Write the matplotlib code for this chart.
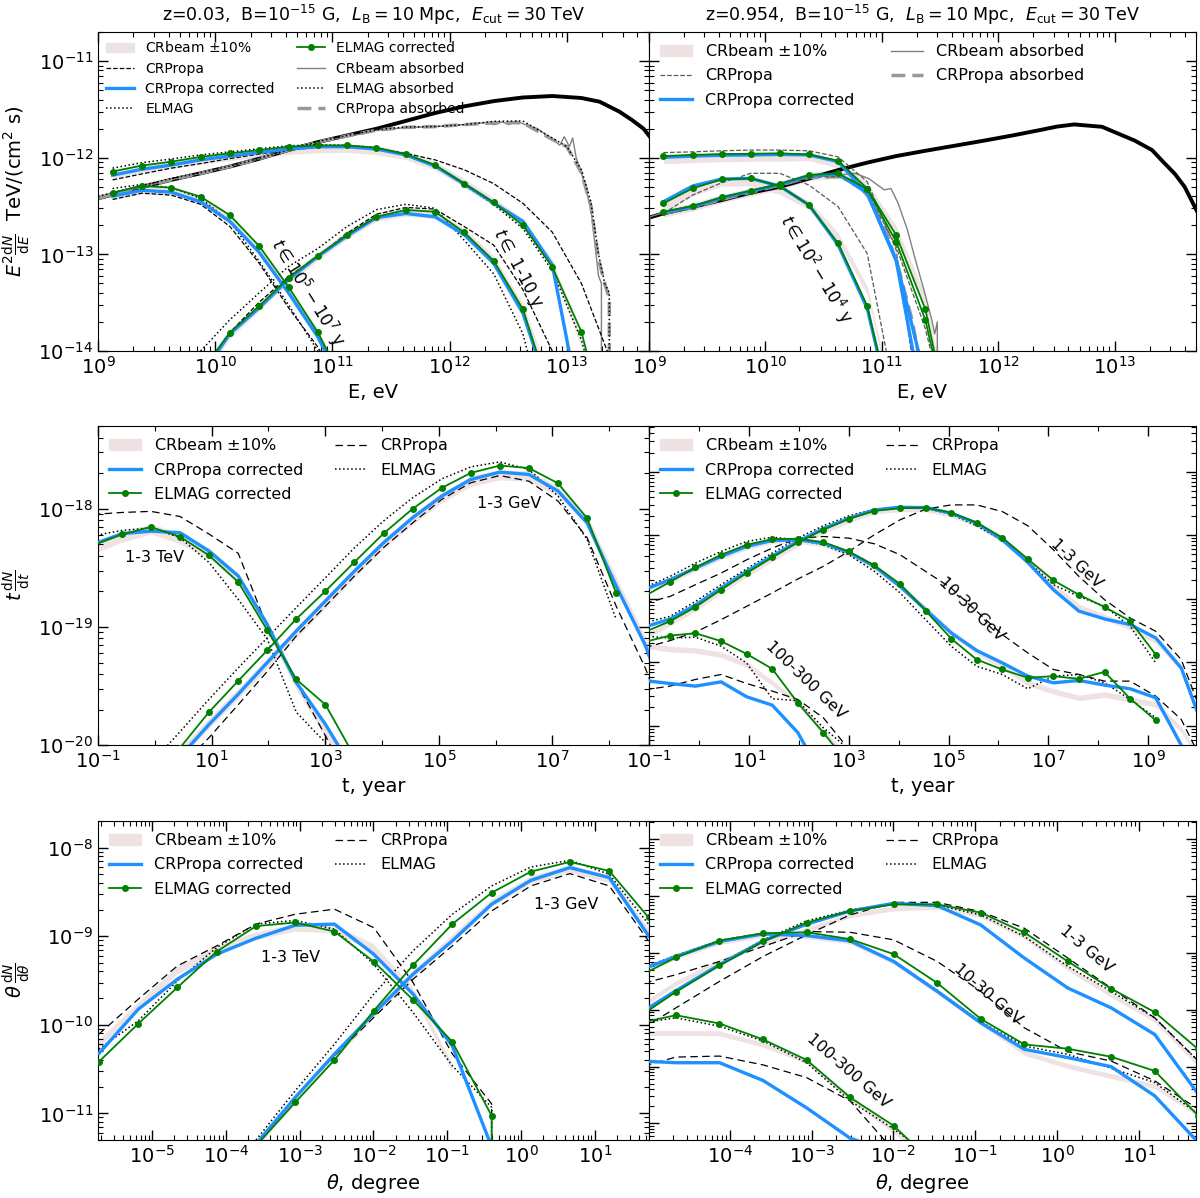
import numpy as np
import matplotlib
matplotlib.use("Agg")
import matplotlib.pyplot as plt
from matplotlib.lines import Line2D
from matplotlib.patches import Patch
from matplotlib.ticker import FixedLocator, NullFormatter

# ------------------------------------------------------------------
# top row : spectra  E^2 dN/dE  [TeV/(cm^2 s)]
# ------------------------------------------------------------------
E_bins = [1.33e9, 2.37e9, 4.22e9, 7.5e9, 1.33e10, 2.37e10, 4.22e10, 7.5e10,
          1.33e11, 2.37e11, 4.22e11, 7.5e11, 1.33e12, 2.37e12, 4.22e12,
          7.5e12, 1.33e13, 2.37e13, 4.22e13]

# z = 0.03, total cascade
tl_tot_band = [6.8e-13, 7.8e-13, 8.6e-13, 9.6e-13, 1.04e-12, 1.12e-12, 1.2e-12, 1.25e-12, 1.26e-12,
               1.2e-12, 1.06e-12, 8.3e-13, 5.5e-13, 3.5e-13, 2.1e-13, 8.0e-14, 1.2e-14, 1e-16]
tl_tot_crp = [5.9e-13, 6.8e-13, 7.8e-13, 8.7e-13, 9.8e-13, 1.09e-12, 1.2e-12, 1.28e-12, 1.32e-12,
              1.25e-12, 1.11e-12, 9.5e-13, 7.5e-13, 5.4e-13, 3.37e-13, 1.7e-13, 5e-14, 8e-15, 1e-15]
tl_tot_crpc = [6.6e-13, 7.6e-13, 8.4e-13, 9.5e-13, 1.04e-12, 1.13e-12, 1.23e-12, 1.3e-12, 1.3e-12,
               1.23e-12, 1.07e-12, 8.2e-13, 5.35e-13, 3.4e-13, 2.2e-13, 7.8e-14, 2.2e-15, 1e-16]
tl_tot_elm = [7.8e-13, 8.9e-13, 9.7e-13, 1.07e-12, 1.15e-12, 1.24e-12, 1.33e-12, 1.36e-12, 1.35e-12,
              1.27e-12, 1.08e-12, 8.2e-13, 5.2e-13, 3.3e-13, 1.85e-13, 6.8e-14, 1.3e-14, 1e-15]
tl_tot_elmc = [7.2e-13, 8.3e-13, 9.1e-13, 1.02e-12, 1.11e-12, 1.2e-12, 1.3e-12, 1.34e-12, 1.34e-12,
               1.27e-12, 1.09e-12, 8.4e-13, 5.4e-13, 3.45e-13, 2.0e-13, 7.4e-14, 1.58e-14, 1e-15]

# z = 0.03, t in 1e5-1e7 y  (starts at E_bins[0])
tl_late_band = [4.1e-13, 4.7e-13, 4.55e-13, 3.6e-13, 2.3e-13, 1.1e-13, 4.3e-14, 1.5e-14, 4e-15]
tl_late_crp = [3.7e-13, 4.3e-13, 4.1e-13, 3.3e-13, 1.95e-13, 8.1e-14, 2.8e-14, 1.1e-14, 3e-15]
tl_late_crpc = [4.0e-13, 4.6e-13, 4.4e-13, 3.5e-13, 2.2e-13, 1.05e-13, 4.0e-14, 1.4e-14, 3.5e-15]
tl_late_elm = [4.8e-13, 5.3e-13, 4.9e-13, 3.8e-13, 2.2e-13, 8.5e-14, 3e-14, 1.0e-14, 2.5e-15]
tl_late_elmc = [4.35e-13, 5.1e-13, 4.9e-13, 3.95e-13, 2.55e-13, 1.22e-13, 4.6e-14, 1.56e-14, 4e-15]

# z = 0.03, t in 1-10 y  (starts at E_bins[3])
tl_early_band = [5.5e-15, 1.5e-14, 2.9e-14, 5.6e-14, 9.6e-14, 1.6e-13, 2.45e-13, 2.75e-13, 2.6e-13,
                 1.7e-13, 8.8e-14, 2.8e-14, 4e-15]
tl_early_crp = [6e-15, 1.55e-14, 3.2e-14, 5.9e-14, 9.5e-14, 1.65e-13, 2.6e-13, 3.06e-13, 2.94e-13,
                1.94e-13, 1.25e-13, 4.3e-14, 1.0e-14, 1e-15]
tl_early_crpc = [5.5e-15, 1.5e-14, 2.8e-14, 5.5e-14, 9.5e-14, 1.55e-13, 2.4e-13, 2.65e-13, 2.45e-13,
                 1.6e-13, 8.1e-14, 2.45e-14, 3e-15]
tl_early_elm = [1e-14, 2.1e-14, 4e-14, 7.5e-14, 1.15e-13, 1.94e-13, 2.9e-13, 3.3e-13, 3.0e-13,
                1.4e-13, 6.3e-14, 1.5e-14, 1e-15]
tl_early_elmc = [6e-15, 1.55e-14, 2.92e-14, 5.74e-14, 9.7e-14, 1.59e-13, 2.45e-13, 2.88e-13, 2.76e-13,
                 1.69e-13, 8.6e-14, 2.7e-14, 3e-15]

# z = 0.03, absorbed primary
E_abs_crb = [1.0e9, 2.4e9, 4.2e9, 7.5e9, 1.33e10, 2.4e10, 4.2e10, 7.5e10, 1.33e11, 2.4e11, 4.2e11,
             7.5e11, 1.33e12, 2.0e12, 2.4e12, 2.8e12, 3.2e12, 3.7e12, 4.2e12, 5.6e12, 7.5e12,
             8.7e12, 9.5e12, 1.05e13, 1.12e13, 1.2e13, 1.33e13, 1.6e13, 1.86e13, 1.97e13, 2.0e13]
tl_abs_crb = [3.8e-13, 5.0e-13, 5.9e-13, 6.9e-13, 8.1e-13, 9.8e-13, 1.2e-12, 1.45e-12, 1.65e-12,
              1.92e-12, 2.05e-12, 2.1e-12, 2.2e-12, 2.3e-12, 2.2e-12, 2.35e-12, 2.2e-12, 2.4e-12,
              2.25e-12, 2.0e-12, 1.55e-12, 1.35e-12, 1.65e-12, 1.3e-12, 1.6e-12, 1.0e-12, 7e-13,
              3e-13, 6e-14, 5e-14, 0.0]
E_abs = [1.0e9, 2.4e9, 4.2e9, 7.5e9, 1.33e10, 2.4e10, 4.2e10, 7.5e10, 1.33e11, 2.4e11, 4.2e11,
         7.5e11, 1.33e12, 2.4e12, 4.2e12, 7.5e12, 1.0e13, 1.33e13, 1.6e13, 1.86e13, 2.1e13,
         2.3e13, 2.35e13]
tl_abs_elm = [4.0e-13, 5.2e-13, 6.1e-13, 7.0e-13, 8.2e-13, 9.9e-13, 1.2e-12, 1.47e-12, 1.7e-12,
              1.95e-12, 2.08e-12, 2.1e-12, 2.2e-12, 2.38e-12, 2.4e-12, 1.6e-12, 1.3e-12, 7.5e-13,
              3.5e-13, 1.0e-13, 5e-14, 4e-14, 0.0]
tl_abs_crp = [3.8e-13, 5.0e-13, 5.9e-13, 6.9e-13, 8.1e-13, 9.8e-13, 1.2e-12, 1.45e-12, 1.68e-12,
              1.93e-12, 2.06e-12, 2.1e-12, 2.2e-12, 2.3e-12, 2.3e-12, 1.55e-12, 1.3e-12, 7e-13,
              3.2e-13, 9e-14, 5e-14, 3.5e-14, 0.0]

# z = 0.03, intrinsic spectrum
E_intr_l = [1.0e9, 2.4e9, 4.2e9, 7.5e9, 1.33e10, 2.4e10, 4.2e10, 7.5e10, 1.33e11, 2.4e11, 4.2e11,
            7.5e11, 1.33e12, 2.4e12, 4.2e12, 7.5e12, 1.33e13, 1.9e13, 2.8e13, 3.6e13, 4.5e13, 5.2e13]
tl_intr = [3.8e-13, 5.0e-13, 5.9e-13, 6.9e-13, 8.1e-13, 9.8e-13, 1.2e-12, 1.45e-12, 1.7e-12, 2.0e-12,
           2.4e-12, 2.9e-12, 3.4e-12, 3.86e-12, 4.2e-12, 4.35e-12, 4.15e-12, 3.8e-12, 3.0e-12,
           2.45e-12, 2.0e-12, 1.6e-12]

# z = 0.954, total cascade
tr_tot_band = [9.6e-13, 9.9e-13, 1.01e-12, 1.02e-12, 1.02e-12, 1.04e-12, 8.7e-13, 5.0e-13, 1.79e-13, 3.4e-14, 1e-15]
tr_tot_crp = [1.13e-12, 1.15e-12, 1.18e-12, 1.2e-12, 1.2e-12, 1.18e-12, 1.02e-12, 5.65e-13, 1.11e-13, 1e-15]
tr_tot_crpc = [1.01e-12, 1.04e-12, 1.06e-12, 1.07e-12, 1.08e-12, 1.07e-12, 9.1e-13, 4.28e-13, 8.7e-14, 5e-15]
tr_tot_elmc = [1.04e-12, 1.07e-12, 1.09e-12, 1.1e-12, 1.11e-12, 1.08e-12, 9.3e-13, 4.8e-13, 1.58e-13, 2.7e-14, 1e-15]

# z = 0.954, t in 1e2-1e4 y
tr_hump_band = [3.1e-13, 4.45e-13, 5.65e-13, 5.65e-13, 4.63e-13, 3.24e-13, 1.52e-13, 4.27e-14, 2e-15]
tr_hump_crp = [2.65e-13, 4.11e-13, 5.51e-13, 6.9e-13, 6.9e-13, 5.21e-13, 3.11e-13, 1.02e-13, 3e-15]
tr_hump_crpc = [3.5e-13, 5.1e-13, 6.02e-13, 6.11e-13, 5.09e-13, 3.24e-13, 1.25e-13, 2.76e-14, 1.5e-15]
tr_hump_elmc = [3.37e-13, 4.82e-13, 5.97e-13, 6.11e-13, 5.09e-13, 3.24e-13, 1.3e-13, 2.92e-14, 1.5e-15]

# z = 0.954, late part
tr_rise_band = [2.7e-13, 3.1e-13, 3.8e-13, 4.45e-13, 5.2e-13, 6.4e-13, 6.9e-13, 5.0e-13, 1.7e-13, 3.2e-14, 1e-15]
tr_rise_crp = [2.6e-13, 3.0e-13, 3.75e-13, 4.4e-13, 5.15e-13, 6.3e-13, 6.4e-13, 4.5e-13, 1.2e-13, 1.7e-14, 1e-15]
tr_rise_crpc = [2.7e-13, 3.1e-13, 3.85e-13, 4.5e-13, 5.3e-13, 6.5e-13, 6.8e-13, 4.3e-13, 8.7e-14, 2e-15]
tr_rise_elmc = [2.76e-13, 3.16e-13, 3.89e-13, 4.56e-13, 5.34e-13, 6.62e-13, 6.89e-13, 4.75e-13, 1.35e-13, 2.09e-14, 1e-15]

# z = 0.954, absorbed primary
E_abs_crb_r = [1.0e9, 1.02e9, 1.33e9, 2.37e9, 4.22e9, 7.5e9, 1.33e10, 2.37e10, 4.22e10, 5.9e10, 7.7e10,
               1.05e11, 1.2e11, 1.38e11, 1.66e11, 1.95e11, 2.34e11, 2.69e11, 2.85e11, 3.0e11, 3.1e11]
tr_abs_crb = [0.0, 2.45e-13, 2.7e-13, 3.1e-13, 3.73e-13, 4.45e-13, 5.21e-13, 6.26e-13, 6.62e-13, 6.9e-13,
              6.1e-13, 4.65e-13, 4.8e-13, 3.4e-13, 1.8e-13, 8.7e-14, 4e-14, 2.1e-14, 1.5e-14, 2e-14, 0.0]
E_abs_crp_r = [1.33e9, 2.37e9, 4.22e9, 7.5e9, 1.33e10, 2.37e10, 4.22e10, 5.9e10, 7.7e10, 1.05e11,
               1.38e11, 1.82e11, 2.04e11, 2.1e11]
tr_abs_crp = [2.65e-13, 3.05e-13, 3.7e-13, 4.4e-13, 5.2e-13, 6.26e-13, 6.35e-13, 5.65e-13, 3.95e-13,
              1.94e-13, 7.5e-14, 2.1e-14, 1e-14, 0.0]

# z = 0.954, intrinsic spectrum
E_intr_r = [1.0e9, 1.33e9, 2.37e9, 4.22e9, 7.5e9, 1.33e10, 2.37e10, 4.22e10, 7.5e10, 1.33e11, 2.37e11,
            4.22e11, 7.5e11, 1.33e12, 2.37e12, 3.2e12, 4.5e12, 7.8e12, 1.48e13, 2.1e13, 2.54e13,
            3.3e13, 4.0e13, 5.4e13]
tr_intr = [2.4e-13, 2.65e-13, 3.1e-13, 3.65e-13, 4.35e-13, 5.0e-13, 6.1e-13, 7.45e-13, 8.9e-13, 1.04e-12,
           1.18e-12, 1.33e-12, 1.5e-12, 1.7e-12, 1.95e-12, 2.1e-12, 2.21e-12, 2.09e-12, 1.51e-12,
           1.2e-12, 9.4e-13, 6.8e-13, 5.0e-13, 2.45e-13]

# ------------------------------------------------------------------
# middle row : time delay  t dN/dt
# ------------------------------------------------------------------
t_bins = [0.081, 0.263, 0.855, 2.78, 9.04, 29.4, 95.5, 310, 1.01e3, 3.28e3, 1.07e4, 3.47e4,
          1.13e5, 3.66e5, 1.19e6, 3.87e6, 1.26e7, 4.09e7, 1.33e8, 4.33e8, 1.41e9, 4.57e9, 1.48e10]

# z = 0.03, 1-3 TeV (from t_bins[0])
ml_tev_band = [4.6e-19, 5.8e-19, 6.8e-19, 5.6e-19, 4.2e-19, 2.6e-19, 1.0e-19, 3.3e-20, 1.3e-20, 5e-21, 1.5e-21]
ml_tev_crp = [8.95e-19, 9.3e-19, 9.5e-19, 8.6e-19, 6.1e-19, 4.2e-19, 1.0e-19, 3.4e-20, 1.2e-20, 4e-21, 1e-21]
ml_tev_crpc = [5.0e-19, 6.15e-19, 6.47e-19, 6.27e-19, 4.38e-19, 2.7e-19, 1.05e-19, 3.39e-20, 1.5e-20, 5.9e-21, 2e-21]
ml_tev_elm = [5.9e-19, 6.55e-19, 6.9e-19, 5.7e-19, 3.5e-19, 1.71e-19, 7.9e-20, 1.9e-20, 1.05e-20, 4e-21, 1e-21]
ml_tev_elmc = [4.9e-19, 6.07e-19, 7.0e-19, 5.8e-19, 4.03e-19, 2.4e-19, 9.4e-20, 3.6e-20, 2.2e-20, 8e-21, 2e-21]

# z = 0.03, 1-3 GeV (from t_bins[2])
ml_gev_band = [3e-21, 8.5e-21, 1.55e-20, 2.75e-20, 5.0e-20, 9.0e-20, 1.6e-19, 2.9e-19, 5.1e-19, 8.2e-19,
               1.25e-18, 1.72e-18, 1.95e-18, 1.9e-18, 1.42e-18, 8.0e-19, 2.4e-19, 7.5e-20, 1.6e-20]
ml_gev_crp = [2.5e-21, 6.5e-21, 1.16e-20, 2.2e-20, 4.2e-20, 8.4e-20, 1.5e-19, 2.7e-19, 4.7e-19, 7.6e-19,
              1.2e-18, 1.66e-18, 1.91e-18, 1.71e-18, 1.16e-18, 5.7e-19, 1.5e-19, 4.5e-20, 1e-20]
ml_gev_crpc = [3e-21, 8e-21, 1.5e-20, 2.7e-20, 5.0e-20, 9.25e-20, 1.66e-19, 2.97e-19, 5.16e-19, 8.4e-19,
               1.28e-18, 1.77e-18, 2.04e-18, 1.95e-18, 1.41e-18, 7.6e-19, 2.22e-19, 7e-20, 1.5e-20]
ml_gev_elm = [7e-21, 1.3e-20, 2.45e-20, 4.5e-20, 8.1e-20, 1.46e-19, 2.61e-19, 4.67e-19, 7.9e-19, 1.24e-18,
              1.79e-18, 2.26e-18, 2.49e-18, 2.15e-18, 1.28e-18, 5.5e-19, 1.16e-19]
ml_gev_elmc = [4e-21, 9.5e-21, 1.91e-20, 3.5e-20, 6.35e-20, 1.17e-19, 2.01e-19, 3.54e-19, 6.19e-19, 1.0e-18,
               1.5e-18, 2.01e-18, 2.32e-18, 2.21e-18, 1.64e-18, 8.3e-19, 1.93e-19]

# z = 0.954, 1-3 GeV (from t_bins[0])
mr_g1_band = [2.5e-22, 4.2e-22, 7.1e-22, 1.35e-21, 2.45e-21, 4.3e-21, 7.4e-21, 1.18e-20, 1.75e-20, 2.4e-20,
              2.6e-20, 2.6e-20, 2.15e-20, 1.5e-20, 8.6e-21, 4.0e-21, 1.6e-21, 7.5e-22, 5.2e-22, 3.6e-22,
              2.2e-22, 8e-23, 8e-24]
mr_g1_crp = [1.7e-22, 2.2e-22, 3.0e-22, 4.7e-22, 7.62e-22, 1.24e-21, 2.05e-21, 3.24e-21, 5.56e-21, 1.02e-20,
             1.75e-20, 2.57e-20, 3.0e-20, 3.0e-20, 2.36e-20, 1.41e-20, 5.9e-21, 2.25e-21, 9.7e-22, 5.0e-22,
             3.09e-22, 1.11e-22, 1.0e-23]
mr_g1_crpc = [3.6e-22, 4.8e-22, 8.0e-22, 1.48e-21, 2.7e-21, 4.7e-21, 8.0e-21, 1.27e-20, 1.85e-20, 2.5e-20,
              2.76e-20, 2.72e-20, 2.22e-20, 1.55e-20, 8.5e-21, 3.74e-21, 1.39e-21, 6.4e-22, 4.83e-22,
              3.94e-22, 2.43e-22, 8.2e-23, 6.6e-24]
mr_g1_elm = [4.2e-22, 5.3e-22, 9.1e-22, 1.67e-21, 2.97e-21, 5.24e-21, 9.0e-21, 1.41e-20, 2.02e-20, 2.57e-20,
             2.76e-20, 2.66e-20, 2.14e-20, 1.41e-20, 8.3e-21, 3.87e-21, 1.67e-21, 1.09e-21, 7.62e-22,
             3.7e-22, 9.8e-23]
mr_g1_elmc = [3.0e-22, 4.43e-22, 7.44e-22, 1.39e-21, 2.54e-21, 4.48e-21, 7.7e-21, 1.22e-20, 1.81e-20,
              2.42e-20, 2.66e-20, 2.72e-20, 2.27e-20, 1.58e-20, 9.2e-21, 4.22e-21, 1.95e-21, 1.16e-21,
              7.44e-22, 4.49e-22, 1.33e-22]

# z = 0.954, 10-30 GeV
mr_g10_band = [1.4e-21, 1.95e-21, 3.0e-21, 4.6e-21, 6.6e-21, 8.2e-21, 8.3e-21, 7.3e-21, 5.2e-21, 3.2e-21,
               1.6e-21, 7.0e-22, 3.0e-22, 1.5e-22, 8.7e-23, 4.78e-23, 3.54e-23, 2.78e-23, 3.14e-23,
               2.62e-23, 2.19e-23, 8.9e-24, 2e-24]
mr_g10_crp = [8.5e-22, 1.09e-21, 1.67e-21, 2.54e-21, 4.11e-21, 6.27e-21, 9.0e-21, 9.55e-21, 9.0e-21,
              7.33e-21, 4.93e-21, 2.7e-21, 1.48e-21, 6.37e-22, 2.74e-22, 1.41e-22, 7.74e-23, 6.46e-23,
              5.08e-23, 5.08e-23, 2.95e-23, 1.27e-23, 2e-24]
mr_g10_crpc = [1.4e-21, 2.0e-21, 3.05e-21, 4.65e-21, 6.67e-21, 8.28e-21, 8.48e-21, 7.5e-21, 5.36e-21,
               3.24e-21, 1.57e-21, 6.76e-22, 2.91e-22, 1.54e-22, 9.84e-23, 6.08e-23, 4.78e-23, 5.2e-23,
               4.4e-23, 3.85e-23, 2.78e-23, 5e-24]
mr_g10_elm = [1.5e-21, 2.25e-21, 3.65e-21, 5.56e-21, 7.98e-21, 9.33e-21, 8.48e-21, 7.08e-21, 4.93e-21,
              2.7e-21, 1.24e-21, 4.71e-22, 1.8e-22, 8.7e-23, 6.46e-23, 3.85e-23, 6.08e-23, 6.46e-23,
              4.78e-23, 2.62e-23, 1.35e-23]
mr_g10_elmc = [1.1e-21, 1.84e-21, 3.12e-21, 4.93e-21, 7.08e-21, 8.7e-21, 8.8e-21, 7.8e-21, 5.56e-21,
               3.35e-21, 1.71e-21, 6.5e-22, 2.37e-22, 1.11e-22, 7.74e-23, 5.73e-23, 6.08e-23, 5.52e-23,
               7.1e-23, 2.69e-23, 1.23e-23]

# z = 0.954, 100-300 GeV
mr_g100_band = [1.85e-22, 1.63e-22, 1.55e-22, 1.33e-22, 9.27e-23, 4.78e-23, 2.32e-23, 8.3e-24, 3e-24]
mr_g100_crp = [3.7e-23, 4.24e-23, 5.4e-23, 6.46e-23, 4.66e-23, 3.54e-23, 2.62e-23, 1.35e-23, 4.3e-24]
mr_g100_crpc = [5.2e-23, 4.66e-23, 4.24e-23, 4.95e-23, 2.88e-23, 2.13e-23, 7.9e-24, 1.5e-24]
mr_g100_elm = [2.6e-22, 2.42e-22, 2.49e-22, 1.8e-22, 9.8e-23, 2.69e-23, 2.5e-23, 9.4e-24, 4.3e-24]
mr_g100_elmc = [2.1e-22, 2.64e-22, 2.88e-22, 2.16e-22, 1.36e-22, 7.93e-23, 2.32e-23, 7.86e-24, 2.5e-24]

# ------------------------------------------------------------------
# bottom row : angular profile  theta dN/dtheta
# ------------------------------------------------------------------
th_bins = [1.9e-6, 6.5e-6, 2.2e-5, 7.5e-5, 2.56e-4, 8.7e-4, 2.96e-3, 1.01e-2, 3.44e-2,
           0.117, 0.40, 1.36, 4.6, 15.7, 53.5]

# z = 0.03, 1-3 TeV (from th_bins[0])
bl_tev_band = [6.1e-11, 1.6e-10, 4.1e-10, 7.0e-10, 1.0e-9, 1.25e-9, 1.2e-9, 7.4e-10, 2.4e-10, 3.3e-11, 0.0]
bl_tev_crp = [7.85e-11, 1.95e-10, 4.62e-10, 7.78e-10, 1.37e-9, 1.77e-9, 2.02e-9, 1.25e-9, 3.0e-10,
              4.7e-11, 1.28e-11, 0.0]
bl_tev_crpc = [4.75e-11, 1.5e-10, 3.27e-10, 6.26e-10, 9.5e-10, 1.33e-9, 1.37e-9, 6.26e-10, 2.22e-10,
               5.8e-11, 4.2e-12, 0.0]
bl_tev_elm = [5.32e-11, 1.11e-10, 3.13e-10, 7.45e-10, 1.37e-9, 1.51e-9, 1.2e-9, 4.83e-10, 1.38e-10,
              3.45e-11, 1.17e-11, 0.0]
bl_tev_elmc = [3.83e-11, 1.03e-10, 2.64e-10, 6.71e-10, 1.3e-9, 1.43e-9, 1.13e-9, 5.17e-10, 1.91e-10,
               6.43e-11, 9.4e-12, 0.0]

# z = 0.03, 1-3 GeV (from th_bins[4])
bl_gev_band = [4.5e-12, 1.45e-11, 4.5e-11, 1.35e-10, 3.8e-10, 9.5e-10, 2.4e-9, 4.4e-9, 5.8e-9, 4.5e-9, 1.1e-9]
bl_gev_crp = [4.5e-12, 1.51e-11, 4.47e-11, 1.21e-10, 3.27e-10, 7.78e-10, 1.93e-9, 3.7e-9, 5.09e-9, 3.7e-9, 8.85e-10]
bl_gev_crpc = [4.5e-12, 1.51e-11, 4.67e-11, 1.34e-10, 3.73e-10, 8.85e-10, 2.3e-9, 4.28e-9, 5.95e-9, 4.59e-9, 1.01e-9]
bl_gev_elm = [5e-12, 1.8e-11, 6.05e-11, 2.22e-10, 6.84e-10, 1.77e-9, 3.7e-9, 6.05e-9, 7.2e-9, 5.0e-9, 1.37e-9]
bl_gev_elmc = [4.3e-12, 1.33e-11, 4.0e-11, 1.44e-10, 4.71e-10, 1.37e-9, 3.1e-9, 5.36e-9, 6.9e-9, 5.46e-9, 1.63e-9]

# z = 0.954 (all from th_bins[1])
br_g1_band = [9.42e-16, 2.96e-15, 7.08e-15, 1.49e-14, 2.54e-14, 4.66e-14, 6.1e-14, 6.52e-14, 4.66e-14,
              1.95e-14, 5.42e-15, 1.85e-15, 6.73e-16, 1.1e-16]
br_g1_crp = [3.67e-16, 1.08e-15, 3.16e-15, 8.67e-15, 2.08e-14, 4.66e-14, 7.76e-14, 7.76e-14, 5.33e-14,
             2.72e-14, 8.11e-15, 2.41e-15, 7.2e-16, 1.25e-16]
br_g1_crpc = [7.2e-16, 2.17e-15, 6.19e-15, 1.63e-14, 3.2e-14, 5.47e-14, 7.46e-14, 6.79e-14, 3.11e-14,
              8.11e-15, 2.41e-15, 1.08e-15, 3.67e-16, 3.27e-17]
br_g1_elm = [6.3e-16, 2.17e-15, 6.37e-15, 1.7e-14, 3.66e-14, 5.7e-14, 7.46e-14, 6.97e-14, 4.66e-14,
             1.95e-14, 5.79e-15, 2.11e-15, 7.2e-16, 1.25e-16]
br_g1_elmc = [6.3e-16, 2.06e-15, 6.03e-15, 1.59e-14, 3.42e-14, 5.47e-14, 7.16e-14, 7.16e-14, 5.12e-14,
              2.29e-14, 7.08e-15, 2.35e-15, 9.06e-16, 2.01e-16]

br_g10_band = [4.3e-15, 8.5e-15, 1.56e-14, 2.1e-14, 1.98e-14, 1.6e-14, 7.0e-15, 2.1e-15, 6.0e-16,
               1.75e-16, 1.03e-16, 6.85e-17, 4.57e-17, 1.46e-17]
br_g10_crp = [2.6e-15, 4.14e-15, 7.08e-15, 1.3e-14, 2.38e-14, 2.31e-14, 1.7e-14, 7.08e-15, 2.11e-15,
              4.81e-16, 1.83e-16, 1.25e-16, 5.6e-17, 1.78e-17]
br_g10_crpc = [4.43e-15, 8.67e-15, 1.59e-14, 2.16e-14, 2.02e-14, 1.63e-14, 7.08e-15, 2.11e-15, 5.89e-16,
               2.01e-16, 1.44e-16, 9.98e-17, 3.05e-17, 4.6e-18]
br_g10_elm = [4.7e-15, 9.03e-15, 1.67e-14, 2.22e-14, 2.08e-14, 1.65e-14, 7.27e-15, 2.2e-15, 6.13e-16,
              2.3e-16, 1.64e-16, 9.33e-17, 5.23e-17, 1.46e-17]
br_g10_elmc = [3.4e-15, 8.33e-15, 1.65e-14, 2.22e-14, 2.31e-14, 1.75e-14, 9.53e-15, 2.96e-15, 6.92e-16,
               2.45e-16, 2.06e-16, 1.49e-16, 8.37e-17, 1.36e-17]

br_g100_band = [3.9e-16, 3.94e-16, 3.86e-16, 2.45e-16, 1.25e-16, 2.86e-17, 7.43e-18, 1.94e-18]
br_g100_crp = [9.0e-17, 1.47e-16, 1.53e-16, 1.07e-16, 6.4e-17, 2.49e-17, 3.32e-18, 1e-18]
br_g100_crpc = [1.27e-16, 1.17e-16, 1.17e-16, 5.68e-17, 1.88e-17, 5.5e-18, 3e-18, 1e-18]
br_g100_elm = [5.6e-16, 7.2e-16, 5.14e-16, 2.81e-16, 1.17e-16, 2.49e-17, 7.96e-18, 2.22e-18]
br_g100_elmc = [5.5e-16, 8.01e-16, 5.73e-16, 3.0e-16, 1.31e-16, 2.86e-17, 9.1e-18, 1.7e-18]

# ------------------------------------------------------------------
BAND_C = "#efe2e2"
BLUE = "#1e90ff"
GREEN = "green"


def xs(grid, y, start=0):
    return np.array(grid[start:start + len(y)], dtype=float)


def draw_set(ax, grid, start, band, crp, crpc, elm, elmc, crp_ls=(0, (6, 3.5)), crp_c="k"):
    y = np.array(band, dtype=float)
    x = xs(grid, y, start)
    ax.fill_between(x, 0.9 * y, 1.1 * y, color=BAND_C, lw=0, zorder=1)
    if crp is not None:
        ax.plot(xs(grid, crp, start), crp, color=crp_c, ls=crp_ls, lw=0.9, zorder=3)
    ax.plot(xs(grid, crpc, start), crpc, color=BLUE, lw=2.4, zorder=4)
    if elm is not None:
        ax.plot(xs(grid, elm, start), elm, color="k", ls=":", lw=1.1, zorder=3)
    ax.plot(xs(grid, elmc, start), elmc, color=GREEN, lw=1.3, marker="o", ms=4, zorder=5)


def log_ticks(axis, lo, hi, odd_only=False):
    # decade ticks that fall inside the limits only
    k0, k1 = int(np.floor(np.log10(lo))), int(np.ceil(np.log10(hi)))
    inside = lambda v: lo * (1 - 1e-9) <= v <= hi * (1 + 1e-9)
    if odd_only:
        major = [10.0 ** k for k in range(k0, k1 + 1) if k % 2 and inside(10.0 ** k)]
        minor = [10.0 ** k for k in range(k0, k1 + 1) if not k % 2 and inside(10.0 ** k)]
    else:
        major = [10.0 ** k for k in range(k0, k1 + 1) if inside(10.0 ** k)]
        minor = [m * 10.0 ** k for k in range(k0, k1 + 1) for m in range(2, 10) if inside(m * 10.0 ** k)]
    axis.set_major_locator(FixedLocator(major))
    axis.set_minor_locator(FixedLocator(minor))
    axis.set_minor_formatter(NullFormatter())


def style(ax, xlim, ylim, left=True, odd_x=False):
    ax.set_xscale("log")
    ax.set_yscale("log")
    ax.set_xlim(*xlim)
    ax.set_ylim(*ylim)
    log_ticks(ax.xaxis, *xlim, odd_only=odd_x)
    log_ticks(ax.yaxis, *ylim)
    ax.tick_params(which="both", direction="in", top=True, right=True, labelsize=14)
    ax.tick_params(which="major", length=7, width=1)
    ax.tick_params(which="minor", length=3.5, width=0.8)
    if not left:
        ax.tick_params(labelleft=False)


fig = plt.figure(figsize=(12, 11.98), dpi=100)
W1, W2 = 0.459, 0.4558
X1, X2 = 0.0817, 0.5408
H = 0.2663
rows = [0.7070, 0.3780, 0.0484]
axs = [[fig.add_axes([X1, b, W1, H]), fig.add_axes([X2, b, W2, H])] for b in rows]

leg_kw = dict(frameon=False, ncol=2, loc="upper left", handlelength=2.0)

# ---- top left
ax = axs[0][0]
style(ax, (1e9, 5e13), (1e-14, 2e-11))
ax.plot(E_intr_l, tl_intr, color="k", lw=2.8, zorder=2)
ax.plot(E_abs_crb, tl_abs_crb, color="gray", lw=1.0, zorder=2)
ax.plot(E_abs, tl_abs_crp, color="#999999", ls=(0, (4, 2)), lw=2.5, zorder=2)
ax.plot(E_abs, tl_abs_elm, color="k", ls=":", lw=1.1, zorder=3)
draw_set(ax, E_bins, 0, tl_tot_band, tl_tot_crp, tl_tot_crpc, tl_tot_elm, tl_tot_elmc, crp_ls="--")
draw_set(ax, E_bins, 0, tl_late_band, tl_late_crp, tl_late_crpc, tl_late_elm, tl_late_elmc, crp_ls="--")
draw_set(ax, E_bins, 3, tl_early_band, tl_early_crp, tl_early_crpc, tl_early_elm, tl_early_elmc, crp_ls="--")
ax.text(6.2e10, 4.0e-14, r"$t\in10^5-10^7$ y", rotation=-58, fontsize=12, ha="center", va="center")
ax.text(3.8e12, 7.2e-14, r"$t\in$ 1-10 y", rotation=-62, fontsize=12, ha="center", va="center")
ax.set_xlabel("E, eV", fontsize=14)
ax.set_ylabel(r"$E^2\frac{{\rm d}N}{{\rm d}E}$  TeV/(cm$^2$ s)", fontsize=14)
ax.set_title(r"z=0.03,  B=$10^{-15}$ G,  $L_{\rm B}=10$ Mpc,  $E_{\rm cut}=30$ TeV", fontsize=12.5, pad=8)
h = [Patch(color=BAND_C, label=r"CRbeam $\pm$10%"),
     Line2D([], [], color="k", ls="--", lw=0.9, label="CRPropa"),
     Line2D([], [], color=BLUE, lw=2.4, label="CRPropa corrected"),
     Line2D([], [], color="k", ls=":", lw=1.1, label="ELMAG"),
     Line2D([], [], color=GREEN, lw=1.3, marker="o", ms=4, label="ELMAG corrected"),
     Line2D([], [], color="gray", lw=1.0, label="CRbeam absorbed"),
     Line2D([], [], color="k", ls=":", lw=1.1, label="ELMAG absorbed"),
     Line2D([], [], color="#999999", ls=(0, (4, 2)), lw=2.5, label="CRPropa absorbed")]
ax.legend(handles=h, fontsize=10, columnspacing=1.6, labelspacing=0.45, borderaxespad=0.2, **leg_kw)

# ---- top right
ax = axs[0][1]
style(ax, (1e9, 5e13), (1e-14, 2e-11), left=False)
ax.plot(E_intr_r, tr_intr, color="k", lw=2.8, zorder=2)
ax.plot(E_abs_crb_r, tr_abs_crb, color="gray", lw=1.0, zorder=2)
ax.plot(E_abs_crp_r, tr_abs_crp, color="#999999", ls=(0, (4, 2)), lw=2.5, zorder=2)
draw_set(ax, E_bins, 0, tr_tot_band, tr_tot_crp, tr_tot_crpc, None, tr_tot_elmc, crp_ls="--", crp_c="0.35")
draw_set(ax, E_bins, 0, tr_hump_band, tr_hump_crp, tr_hump_crpc, None, tr_hump_elmc, crp_ls="--", crp_c="0.35")
draw_set(ax, E_bins, 0, tr_rise_band, tr_rise_crp, tr_rise_crpc, None, tr_rise_elmc, crp_ls="--", crp_c="0.35")
ax.text(2.73e10, 7.0e-14, r"$t\in10^2-10^4$ y", rotation=-59, fontsize=12, ha="center", va="center")
ax.set_xlabel("E, eV", fontsize=14)
ax.set_title(r"z=0.954,  B=$10^{-15}$ G,  $L_{\rm B}=10$ Mpc,  $E_{\rm cut}=30$ TeV", fontsize=12.5, pad=8)
h = [Patch(color=BAND_C, label=r"CRbeam $\pm$10%"),
     Line2D([], [], color="0.35", ls="--", lw=0.9, label="CRPropa"),
     Line2D([], [], color=BLUE, lw=2.4, label="CRPropa corrected"),
     Line2D([], [], color="gray", lw=1.0, label="CRbeam absorbed"),
     Line2D([], [], color="#999999", ls=(0, (4, 2)), lw=2.5, label="CRPropa absorbed")]
ax.legend(handles=h, fontsize=11.5, columnspacing=2.3, labelspacing=0.58, borderaxespad=0.3, **leg_kw)

# legend for middle and bottom rows
h_mb = [Patch(color=BAND_C, label=r"CRbeam $\pm$10%"),
        Line2D([], [], color=BLUE, lw=2.4, label="CRPropa corrected"),
        Line2D([], [], color=GREEN, lw=1.3, marker="o", ms=4, label="ELMAG corrected"),
        Line2D([], [], color="k", ls=(0, (6, 3.5)), lw=0.9, label="CRPropa"),
        Line2D([], [], color="k", ls=":", lw=1.1, label="ELMAG")]
mb_kw = dict(fontsize=11.5, columnspacing=2.0, labelspacing=0.58, borderaxespad=0.3)

# ---- middle left
ax = axs[1][0]
style(ax, (0.1, 5e8), (1e-20, 5e-18), odd_x=True)
draw_set(ax, t_bins, 0, ml_tev_band, ml_tev_crp, ml_tev_crpc, ml_tev_elm, ml_tev_elmc)
draw_set(ax, t_bins, 2, ml_gev_band, ml_gev_crp, ml_gev_crpc, ml_gev_elm, ml_gev_elmc)
ax.text(1.0, 3.9e-19, "1-3 TeV", fontsize=11.5, ha="center", va="center")
ax.text(1.74e6, 1.1e-18, "1-3 GeV", fontsize=11.5, ha="center", va="center")
ax.set_xlabel("t, year", fontsize=14)
ax.set_ylabel(r"$t\,\frac{{\rm d}N}{{\rm d}t}$", fontsize=14)
ax.legend(handles=h_mb, **mb_kw, **leg_kw)

# ---- middle right
ax = axs[1][1]
style(ax, (0.1, 9e9), (5e-24, 5.2e-19), left=False, odd_x=True)
draw_set(ax, t_bins, 0, mr_g1_band, mr_g1_crp, mr_g1_crpc, mr_g1_elm, mr_g1_elmc)
draw_set(ax, t_bins, 0, mr_g10_band, mr_g10_crp, mr_g10_crpc, mr_g10_elm, mr_g10_elmc)
draw_set(ax, t_bins, 0, mr_g100_band, mr_g100_crp, mr_g100_crpc, mr_g100_elm, mr_g100_elmc)
ax.text(3.6e7, 3.6e-21, "1-3 GeV", rotation=-43, fontsize=11.5, ha="center", va="center")
ax.text(2.9e5, 6.9e-22, "10-30 GeV", rotation=-44, fontsize=11.5, ha="center", va="center")
ax.text(138, 5.3e-23, "100-300 GeV", rotation=-44, fontsize=11.5, ha="center", va="center")
ax.set_xlabel("t, year", fontsize=14)
ax.legend(handles=h_mb, **mb_kw, **leg_kw)

# ---- bottom left
ax = axs[2][0]
style(ax, (1.85e-6, 54), (5e-12, 2e-8))
draw_set(ax, th_bins, 0, bl_tev_band, bl_tev_crp, bl_tev_crpc, bl_tev_elm, bl_tev_elmc)
draw_set(ax, th_bins, 4, bl_gev_band, bl_gev_crp, bl_gev_crpc, bl_gev_elm, bl_gev_elmc)
ax.text(7.5e-4, 5.7e-10, "1-3 TeV", fontsize=11.5, ha="center", va="center")
ax.text(4.05, 2.3e-9, "1-3 GeV", fontsize=11.5, ha="center", va="center")
ax.set_xlabel(r"$\theta$, degree", fontsize=14)
ax.set_ylabel(r"$\theta\,\frac{{\rm d}N}{{\rm d}\theta}$", fontsize=14)
ax.legend(handles=h_mb, **mb_kw, **leg_kw)

# ---- bottom right
ax = axs[2][1]
style(ax, (1.03e-5, 50), (5.1e-18, 2.1e-12), left=False)
draw_set(ax, th_bins, 1, br_g1_band, br_g1_crp, br_g1_crpc, br_g1_elm, br_g1_elmc)
draw_set(ax, th_bins, 1, br_g10_band, br_g10_crp, br_g10_crpc, br_g10_elm, br_g10_elmc)
draw_set(ax, th_bins, 1, br_g100_band, br_g100_crp, br_g100_crpc, br_g100_elm, br_g100_elmc)
ax.text(2.33, 1.18e-14, "1-3 GeV", rotation=-40, fontsize=11.5, ha="center", va="center")
ax.text(0.142, 1.86e-15, "10-30 GeV", rotation=-41, fontsize=11.5, ha="center", va="center")
ax.text(2.8e-3, 8.5e-17, "100-300 GeV", rotation=-41, fontsize=11.5, ha="center", va="center")
ax.set_xlabel(r"$\theta$, degree", fontsize=14)
ax.legend(handles=h_mb, **mb_kw, **leg_kw)

fig.savefig("out.png", dpi=100)
